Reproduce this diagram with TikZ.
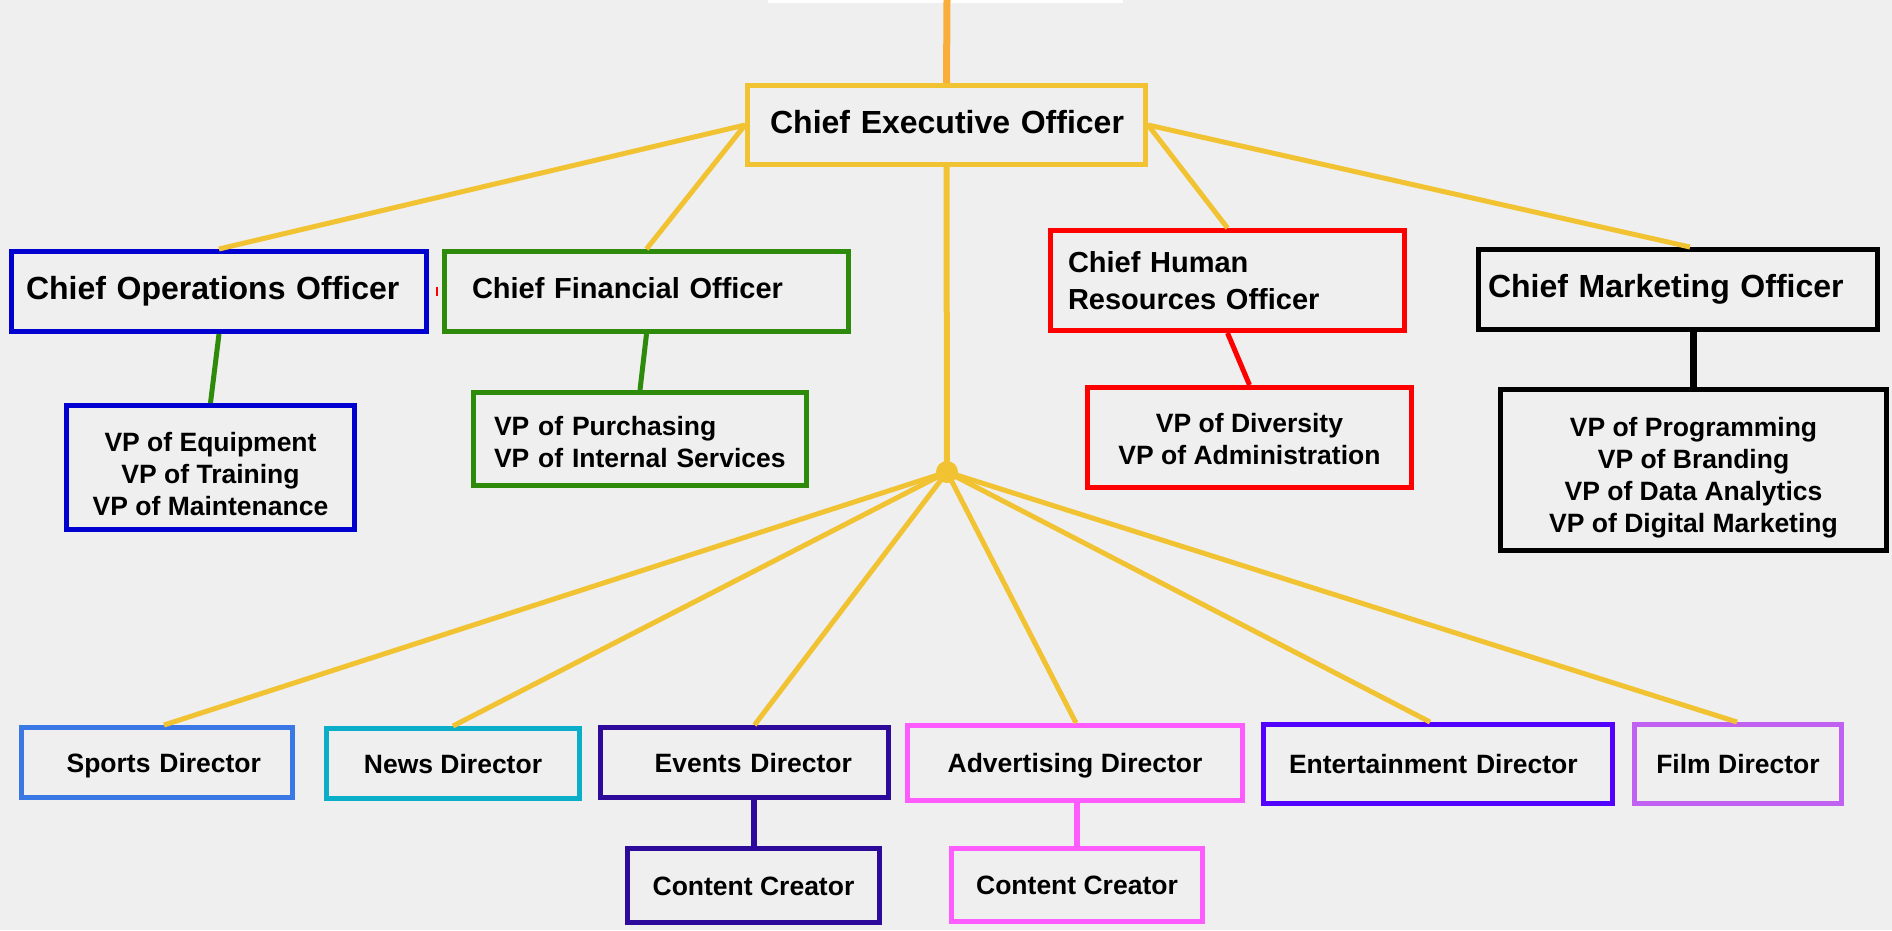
\documentclass[tikz,border=0pt]{standalone}
\usepackage{tikz}
\usepackage{xcolor}
\usepackage{fontspec}
\setmainfont{Liberation Sans}

\definecolor{bggray}{HTML}{EFEFEF}
\definecolor{ceoyellow}{HTML}{F1C232}
\definecolor{feedorange}{HTML}{F9AE3B}
\definecolor{coblue}{HTML}{0000D0}
\definecolor{cfgreen}{HTML}{2D8A0B}
\definecolor{hrred}{HTML}{FF0000}
\definecolor{sportsblue}{HTML}{3A78E6}
\definecolor{newsteal}{HTML}{0AAEC9}
\definecolor{eventsindigo}{HTML}{2E0A9A}
\definecolor{advpink}{HTML}{FF5CFF}
\definecolor{entviolet}{HTML}{5200FF}
\definecolor{filmlilac}{HTML}{C061F2}

\begin{document}
\begin{tikzpicture}[x=1pt,y=-1pt,
  every node/.style={font=\bfseries, inner sep=0pt},
  post/.style={draw=#1, line width=5pt},
  dims/.style 2 args={minimum width=#1pt, minimum height=#2pt},
  big/.style={font=\fontsize{32}{38}\selectfont\bfseries, text height=23pt, text depth=7pt},
  mid/.style={font=\fontsize{29}{37}\selectfont\bfseries},
  small/.style={font=\fontsize{26.5}{32}\selectfont\bfseries},
  oneline/.style={text height=19.5pt, text depth=0pt},
  wire/.style={draw=#1, line width=5pt}]
\useasboundingbox (0,0) rectangle (1892,930);
\fill[bggray] (0,0) rectangle (1892,930);
\fill[white] (768,0) rectangle (1123,3);
\draw[hrred, line width=1.5pt] (437,287) -- (437,296);

\node[post=ceoyellow, big, dims={398}{79}, text width=355pt, inner xsep=21.5pt, align=right] (ceo) at (946.5,125) {Chief Executive Officer};
\node[post=coblue, big, dims={415}{80}, text width=386pt, inner xsep=14.5pt, align=left] (coo) at (219,291.5) {Chief Operations Officer};
\node[post=cfgreen, mid, text height=21pt, text depth=7pt, dims={404}{80}, text width=349pt, inner xsep=27.5pt, align=left] (cfo) at (646.5,291.5) {Chief Financial Officer};
\node[post=hrred, mid, dims={354}{100}, text width=319pt, inner xsep=17.5pt, align=left] (chro) at (1227.5,280.5) {Chief Human\\Resources Officer};
\node[post=black, big, dims={399}{80}, text width=380pt, inner xsep=9.5pt, align=left] (cmo) at (1678,289.5) {Chief Marketing Officer};

\node[post=coblue, small, dims={288}{124}, align=center] (coovp) at (210.5,467.5) {\rule{0pt}{32.5pt}VP of Equipment\\VP of Training\\VP of Maintenance};
\node[post=cfgreen, small, dims={333}{93}, text width=292pt, inner xsep=20.5pt, align=left] (cfovp) at (640,439) {\rule{0pt}{25.5pt}VP of Purchasing\\VP of Internal Services};
\node[post=hrred, small, dims={324}{100}, align=center] (chrovp) at (1249.5,437.5) {\rule{0pt}{22.5pt}VP of Diversity\\VP of Administration};
\node[post=black, small, dims={386}{161}, align=center] (cmovp) at (1693.5,470) {\rule{0pt}{35.5pt}VP of Programming\\VP of Branding\\VP of Data Analytics\\VP of Digital Marketing};

\node[post=sportsblue, small, oneline, dims={271}{70}, text width=208pt, inner xsep=31.5pt, align=right] (sports) at (157,762.5) {Sports Director};
\node[post=newsteal, small, oneline, dims={253}{70}] (news) at (453,763.5) {News Director};
\node[post=eventsindigo, small, oneline, dims={288}{70}, text width=215pt, inner xsep=36.5pt, align=right] (events) at (744.5,762.5) {Events Director};
\node[post=advpink, small, oneline, dims={335}{75}] (adv) at (1075,763) {Advertising Director};
\node[post=entviolet, small, oneline, dims={349}{79}, text width=298pt, inner xsep=25.5pt, align=left] (ent) at (1438,764) {Entertainment Director};
\node[post=filmlilac, small, oneline, dims={207}{79}] (film) at (1738,764) {Film Director};
\node[post=eventsindigo, small, oneline, dims={252}{74}] (eventscc) at (753.5,885.5) {Content Creator};
\node[post=advpink, small, oneline, dims={251}{73}] (advcc) at (1077,885) {Content Creator};

\coordinate (feed) at (947,0);
\coordinate (hub) at (947,472);

\draw[wire=feedorange, line width=7pt] (feed) -- (ceo.north);
\draw[wire=ceoyellow] (ceo.west) -- (coo.north);
\draw[wire=ceoyellow] (ceo.west) -- (cfo.north);
\draw[wire=ceoyellow] (ceo.east) -- (chro.north);
\draw[wire=ceoyellow] (ceo.east) -- ([xshift=12pt]cmo.north);
\draw[wire=ceoyellow, line width=6pt] (ceo.south) -- (hub);
\fill[ceoyellow] (hub) circle (11pt);
\foreach \d/\s in {sports/7, news/0, events/10, adv/1, ent/-8, film/-1}
  \draw[wire=ceoyellow] (hub) -- ([xshift=\s pt]\d.north);

\draw[wire=cfgreen] (coo.south) -- (coovp.north);
\draw[wire=cfgreen] (cfo.south) -- (cfovp.north);
\draw[wire=hrred] (chro.south) -- (chrovp.north);
\draw[wire=black, line width=7pt] (cmovp.north) -- (cmovp.north |- cmo.south);
\draw[wire=eventsindigo, line width=6pt] (eventscc.north) -- (eventscc.north |- events.south);
\draw[wire=advpink, line width=6pt] (advcc.north) -- (advcc.north |- adv.south);
\end{tikzpicture}
\end{document}
